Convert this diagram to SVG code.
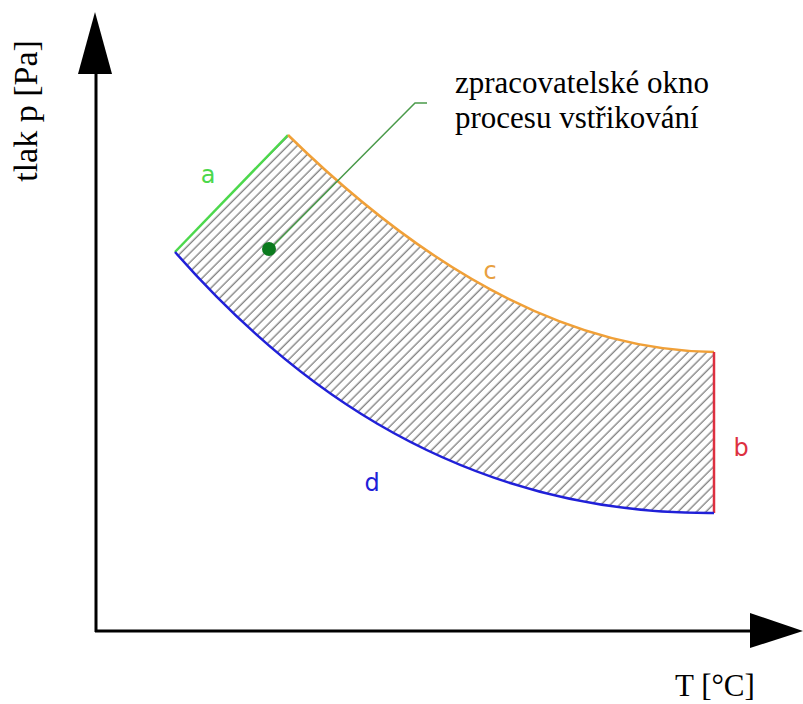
<svg xmlns="http://www.w3.org/2000/svg" width="803" height="704" viewBox="0 0 803 704">
<style>
.ax{stroke:#000;stroke-width:3;fill:none}
.serif{font-family:"Liberation Serif","Times New Roman",serif;font-size:31px;fill:#000}
.lbl{font-family:"DejaVu Sans","Liberation Sans",sans-serif;font-size:24px}
</style>
<defs>
<pattern id="hatch" patternUnits="userSpaceOnUse" width="6.6" height="10" patternTransform="rotate(45)">
<line x1="3" y1="-1" x2="3" y2="11" stroke="#555" stroke-width="1"/>
</pattern>
</defs>
<rect width="803" height="704" fill="#fff"/>
<g id="axes">
<line class="ax" x1="96" y1="70" x2="96" y2="632"/>
<line class="ax" x1="95" y1="631" x2="755" y2="631"/>
<polygon points="95,12 78,74 112,74" fill="#000"/>
<polygon points="803,631 750,613 750,648" fill="#000"/>
</g>
<g id="window">
<path d="M175,252 L288,135 C390,235 540,350 714,352 L714,513 C440,515 270,360 175,252 Z" fill="url(#hatch)"/>
</g>
<g id="connectors">
<path d="M175,252 L288,135" stroke="#4cd84c" stroke-width="2.5" fill="none"/>
<path d="M288,135 C390,235 540,350 714,352" stroke="#f0a038" stroke-width="2.5" fill="none"/>
<path d="M714,352 L714,513" stroke="#dd3040" stroke-width="2.5" fill="none"/>
<path d="M175,252 C270,360 440,515 714,513" stroke="#2020d8" stroke-width="2.5" fill="none"/>
<polyline points="270,249 415,103 427,103" stroke="#4a9a4a" stroke-width="1.5" fill="none"/>
</g>
<g id="dot"><circle cx="269" cy="249" r="7" fill="#0b7a1e"/></g>
<g id="labels">
<text class="lbl" x="208" y="183" fill="#4cd84c" text-anchor="middle">a</text>
<text class="lbl" x="490" y="279" fill="#e8a040" text-anchor="middle">c</text>
<text class="lbl" x="741" y="456" fill="#dd3040" text-anchor="middle">b</text>
<text class="lbl" x="372" y="491" fill="#2020d8" text-anchor="middle">d</text>
<text class="serif" x="455" y="93">zpracovatelské okno</text>
<text class="serif" x="455" y="128">procesu vstřikování</text>
<text class="serif" x="675" y="696">T [°C]</text>
<text class="serif" style="font-size:34px" transform="translate(37,111) rotate(-90)" text-anchor="middle">tlak p [Pa]</text>
</g>
</svg>
